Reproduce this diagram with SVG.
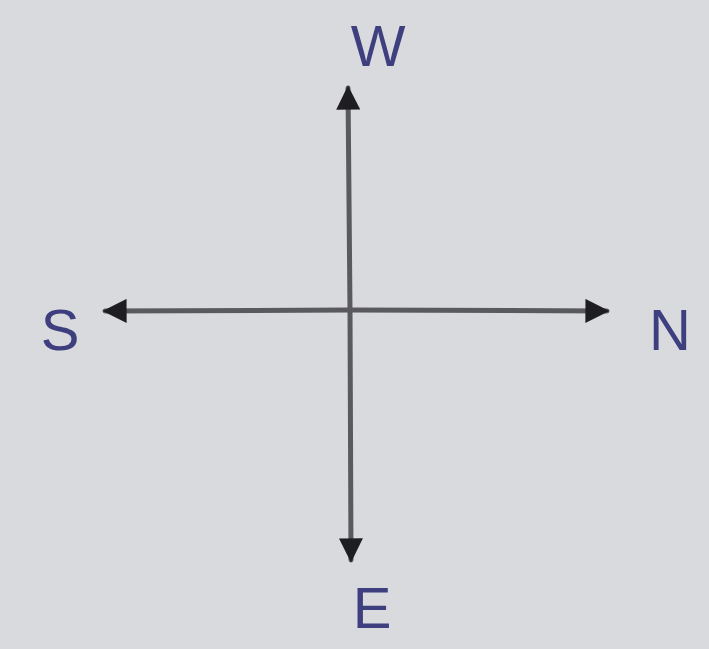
<svg xmlns="http://www.w3.org/2000/svg" width="709" height="649" viewBox="0 0 709 649">
<style>
.ax{stroke:#5a5a5e;stroke-width:5;fill:none;stroke-linecap:round}
.lb{font-family:"Liberation Sans",sans-serif;font-size:58px;fill:#3d3f7e;text-anchor:middle}
</style>
<defs>
<marker id="big" viewBox="0 0 10 10" refX="9" refY="5" markerWidth="28" markerHeight="24" orient="auto" markerUnits="userSpaceOnUse">
<path d="M0,0 L10,5 L0,10 Z" fill="#1e1e22"/>
</marker>
</defs>
<rect width="709" height="649" fill="#d9dadd"/>
<g id="connectors">
<path class="ax" d="M350,310 L348,88" marker-end="url(#big)"/>
<path class="ax" d="M350,310 L351,560" marker-end="url(#big)"/>
<path class="ax" d="M350,310 L105,311" marker-end="url(#big)"/>
<path class="ax" d="M350,310 L607,311" marker-end="url(#big)"/>
</g>
<g id="W"><text class="lb" x="378" y="66">W</text></g>
<g id="N"><text class="lb" x="670" y="350">N</text></g>
<g id="S"><text class="lb" x="60" y="350">S</text></g>
<g id="E"><text class="lb" x="372" y="628">E</text></g>
</svg>
